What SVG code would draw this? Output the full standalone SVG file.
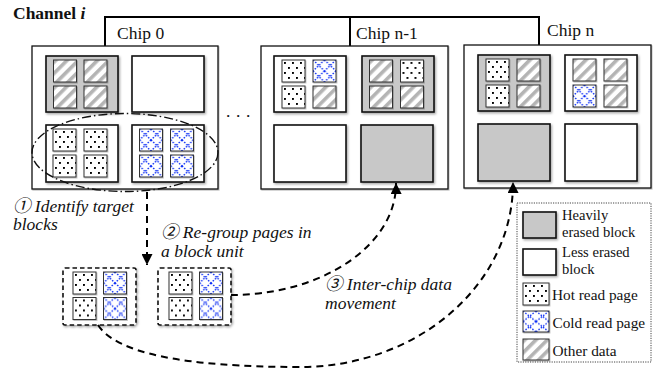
<svg xmlns="http://www.w3.org/2000/svg" width="663" height="375" viewBox="0 0 663 375">
<style>
.chip{fill:#fff;stroke:#111;stroke-width:1.3;filter:url(#sh2)}
.blk{stroke:#111;stroke-width:1.6;filter:url(#sh)}
.heavy{fill:#c8c8c8}
.less{fill:#fff}
.pg{stroke:#333;stroke-width:1;filter:url(#sh2)}
.t{font-size:17.5px;fill:#111}
.it{font-style:italic}
.lg{font-size:15.3px;fill:#111}
.lg2{font-size:14.6px;fill:#111}
.bus{fill:none;stroke:#000;stroke-width:2}
.conn{fill:none;stroke:#000;stroke-width:2;stroke-dasharray:7 5}
.grp{fill:#fff;stroke:#111;stroke-width:1.6;stroke-dasharray:4.5 3;filter:url(#sh)}
</style>
<defs>
<filter id="sh" x="-10%" y="-10%" width="130%" height="130%"><feDropShadow dx="1.2" dy="1.5" stdDeviation="0.9" flood-color="#000" flood-opacity="0.35"/></filter>
<filter id="sh2" x="-10%" y="-10%" width="130%" height="130%"><feDropShadow dx="0.8" dy="1" stdDeviation="0.6" flood-color="#000" flood-opacity="0.25"/></filter>
<pattern id="pDots" width="8" height="10" patternUnits="userSpaceOnUse"><rect width="8" height="10" fill="#fff"/><rect x="2" y="2" width="1.9" height="1.9" fill="#000"/><rect x="6" y="7" width="1.9" height="1.9" fill="#000"/></pattern>
<pattern id="pStripe" width="8" height="8" patternUnits="userSpaceOnUse" patternTransform="rotate(45)"><rect width="8" height="8" fill="#fff"/><rect width="3.6" height="8" fill="#b4b4b4"/></pattern>
<pattern id="pCold" width="11.5" height="11" patternUnits="userSpaceOnUse"><rect width="11.5" height="11" fill="#fff"/><path d="M0,0L11.5,11M11.5,0L0,11" stroke="#0a2cf5" stroke-width="1.4" stroke-dasharray="1.5 1.5" fill="none"/></pattern>
<pattern id="pColdL" width="13" height="10.5" patternUnits="userSpaceOnUse"><rect width="13" height="10.5" fill="#fff"/><path d="M0,0L13,10.5M13,0L0,10.5" stroke="#0a2cf5" stroke-width="1.4" stroke-dasharray="1.5 1.5" fill="none"/></pattern>
<g id="ph"><rect class="pg" width="23" height="22" fill="url(#pDots)"/></g>
<g id="pc"><rect class="pg" width="23" height="22" fill="url(#pCold)"/></g>
<g id="po"><rect class="pg" width="23" height="22" fill="url(#pStripe)"/></g>
<marker id="ah" markerUnits="userSpaceOnUse" markerWidth="11" markerHeight="11" refX="10" refY="5" orient="auto" viewBox="0 0 10 10"><path d="M0,0L10,5L0,10z" fill="#000"/></marker>
</defs>
<rect width="663" height="375" fill="#fff"/>

<g font-family="'Liberation Serif', 'Times New Roman', 'Noto Sans CJK JP', serif">
<g id="channel">
<text class="t" x="13" y="19" font-weight="bold">Channel <tspan font-style="italic">i</tspan></text>
<path class="bus" d="M105,46V17H539V45M350,17V46"/>
</g>

<g id="chip0">
<rect class="chip" x="32" y="46" width="186" height="143"/>
<text class="t" x="117" y="39">Chip 0</text>
<g id="chip0-b1"><rect class="blk heavy" x="46" y="56" width="72" height="56"/>
<use href="#po" x="53.5" y="60"/><use href="#po" x="84" y="60"/><use href="#po" x="53.5" y="86"/><use href="#po" x="84" y="86"/></g>
<g id="chip0-b2"><rect class="blk less" x="132" y="56" width="72" height="56"/></g>
<g id="chip0-b3"><rect class="blk less" x="46" y="125" width="72" height="57"/>
<use href="#ph" x="53" y="129"/><use href="#ph" x="84" y="129"/><use href="#ph" x="53" y="155"/><use href="#ph" x="84" y="155"/></g>
<g id="chip0-b4"><rect class="blk less" x="132" y="125" width="72" height="57"/>
<use href="#pc" x="139.5" y="129"/><use href="#pc" x="170.5" y="129"/><use href="#pc" x="139.5" y="155"/><use href="#pc" x="170.5" y="155"/></g>
</g>

<text class="t" x="226" y="116.5" letter-spacing="5.6">...</text>

<g id="chipn1">
<rect class="chip" x="261" y="46" width="187" height="143"/>
<text class="t" x="356" y="39">Chip n-1</text>
<g id="chipn1-b1"><rect class="blk less" x="274" y="56" width="72" height="56"/>
<use href="#ph" x="282" y="60"/><use href="#pc" x="313" y="60"/><use href="#ph" x="282" y="86"/><use href="#po" x="313" y="86"/></g>
<g id="chipn1-b2"><rect class="blk heavy" x="362" y="56" width="72" height="56"/>
<use href="#po" x="369.5" y="60"/><use href="#ph" x="400.5" y="60"/><use href="#po" x="369.5" y="86"/><use href="#po" x="400.5" y="86"/></g>
<g id="chipn1-b3"><rect class="blk less" x="274" y="125" width="72" height="57"/></g>
<g id="chipn1-b4"><rect class="blk heavy" x="361" y="125" width="72" height="57"/></g>
</g>

<g id="chipn">
<rect class="chip" x="464" y="45" width="187" height="143"/>
<text class="t" x="547" y="36">Chip n</text>
<g id="chipn-b1"><rect class="blk heavy" x="478" y="55" width="72" height="56"/>
<use href="#ph" x="486" y="59"/><use href="#po" x="517" y="59"/><use href="#ph" x="486" y="85"/><use href="#po" x="517" y="85"/></g>
<g id="chipn-b2"><rect class="blk less" x="565" y="55" width="72" height="56"/>
<use href="#po" x="573" y="59"/><use href="#po" x="604" y="59"/><use href="#pc" x="573" y="85"/><use href="#po" x="604" y="85"/></g>
<g id="chipn-b3"><rect class="blk heavy" x="478" y="124" width="72" height="57"/></g>
<g id="chipn-b4"><rect class="blk less" x="565" y="124" width="72" height="57"/></g>
</g>

<ellipse id="target" cx="125" cy="152.5" rx="93" ry="39" fill="none" stroke="#111" stroke-width="1.4" stroke-dasharray="9 3 1.5 3"/>

<g id="regroupA"><rect class="grp" x="63" y="268" width="73" height="57" rx="2"/>
<use href="#ph" x="73" y="272"/><use href="#pc" x="103.5" y="272"/><use href="#ph" x="73" y="297.5"/><use href="#pc" x="103.5" y="297.5"/></g>
<g id="regroupB"><rect class="grp" x="158" y="268" width="73" height="57" rx="2"/>
<use href="#ph" x="169" y="272"/><use href="#pc" x="199.5" y="272"/><use href="#ph" x="169" y="297.5"/><use href="#pc" x="199.5" y="297.5"/></g>

<g id="connectors">
<path class="conn" d="M147,192V265" marker-end="url(#ah)"/>
<path class="conn" d="M231,295A165,111 0 0 0 396,183" marker-end="url(#ah)"/>
<path class="conn" d="M98,325Q125,367 300,367A213,184 0 0 0 513,182" marker-end="url(#ah)"/>
</g>

<g id="labels">
<text class="t it" x="13" y="211.5">① Identify target</text>
<text class="t it" x="13" y="230">blocks</text>
<text class="t it" x="161" y="238">② Re-group pages in</text>
<text class="t it" x="161" y="256.5">a block unit</text>
<text class="t it" x="325" y="290">③ Inter-chip data</text>
<text class="t it" x="325" y="308.5">movement</text>
</g>

<g id="legend">
<rect x="517" y="203" width="134" height="159" fill="#fff" stroke="#444" stroke-width="1" stroke-dasharray="1.2 1.2"/>
<rect class="blk heavy" x="523" y="212" width="33" height="26"/>
<text class="lg2" x="562" y="219.5">Heavily</text>
<text class="lg2" x="562" y="236.5">erased block</text>
<rect class="blk less" x="523" y="249" width="33" height="26"/>
<text class="lg2" x="562" y="256.5">Less erased</text>
<text class="lg2" x="562" y="273.5">block</text>
<g transform="translate(523,283)"><rect class="pg" width="26" height="22" fill="url(#pDots)"/></g>
<text class="lg" x="552" y="300">Hot read page</text>
<g transform="translate(523,311)"><rect class="pg" width="26" height="21" fill="url(#pColdL)"/></g>
<text class="lg" x="552.5" y="327.5">Cold read page</text>
<g transform="translate(523,339)"><rect class="pg" width="26" height="21" fill="url(#pStripe)"/></g>
<text class="lg" x="552.5" y="355.5">Other data</text>
</g>
</g>
</svg>
